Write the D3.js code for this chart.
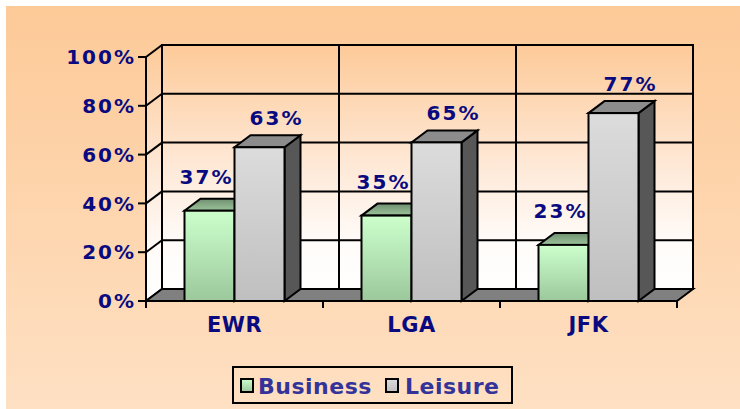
<!DOCTYPE html>
<html lang="en">
<head>
    <meta charset="UTF-8">
    <title>Business vs Leisure</title>
    <script src="https://d3js.org/d3.v7.min.js"></script>
    <style>
        body { margin: 0; background: #fff; }
        text { font-family: "DejaVu Sans", Verdana, sans-serif; font-weight: bold; }
    </style>
</head>
<body>
<script>

    var airports = ["EWR", "LGA", "JFK"]
    var series = ["Business", "Leisure"]
    var business = [0.37, 0.35, 0.23]
    var leisure = [0.63, 0.65, 0.77]
    var yTicks = [0, 0.2, 0.4, 0.6, 0.8, 1.0]

    var width = 740, height = 409
    var depth = {dx: 16, dy: -12}

    var svg = d3.select("body").append("svg")
        .attr("width", width)
        .attr("height", height)

    var defs = svg.append("defs")
    function grad(id, stops) {
        var g = defs.append("linearGradient").attr("id", id)
            .attr("x1", 0).attr("y1", 0).attr("x2", 0).attr("y2", 1)
        stops.forEach(function (s) {
            g.append("stop").attr("offset", s[0]).attr("stop-color", s[1])
        })
    }
    grad("bg", [[0, "#fdca98"], [1, "#fee0c3"]])
    grad("wall", [[0, "#fdca98"], [0.45, "#fee6d2"], [0.8, "#fffbf8"], [1, "#ffffff"]])
    grad("bizFront", [[0, "#ccffcc"], [1, "#9cc89c"]])
    grad("bizTop", [[0, "#6f8f6f"], [1, "#9cc49c"]])
    grad("leiFront", [[0, "#dcdcdc"], [1, "#bfbfbf"]])

    svg.append("rect")
        .attr("x", 6).attr("y", 6)
        .attr("width", width - 6).attr("height", height - 6)
        .attr("fill", "url(#bg)")

    var x = d3.scaleBand().domain(airports).range([146, 677])
    var xs = d3.scaleBand().domain(series).range([0, x.bandwidth()]).paddingOuter(0.77)
    var y = d3.scaleLinear().domain([0, 1]).range([301, 57])

    var x0 = x.range()[0], x1 = x.range()[1]
    var y0 = y(0), yTop = y(1)

    function pts(arr) {
        return arr.map(function (p) { return p[0] + "," + p[1] }).join(" ")
    }

    var chart = svg.append("g")

    // left wall and back wall
    chart.append("polygon")
        .attr("points", pts([[x0, y0], [x0 + depth.dx, y0 + depth.dy], [x0 + depth.dx, yTop + depth.dy], [x0, yTop]]))
        .attr("fill", "url(#wall)")
    chart.append("rect")
        .attr("x", x0 + depth.dx).attr("y", yTop + depth.dy)
        .attr("width", x1 - x0).attr("height", y0 - yTop)
        .attr("fill", "url(#wall)")
        .attr("stroke", "black").attr("stroke-width", 2)

    // gridlines on walls
    yTicks.forEach(function (t) {
        chart.append("line")
            .attr("x1", x0 + depth.dx).attr("x2", x1 + depth.dx)
            .attr("y1", y(t) + depth.dy).attr("y2", y(t) + depth.dy)
            .attr("stroke", "black").attr("stroke-width", 2)
        chart.append("line")
            .attr("x1", x0).attr("y1", y(t))
            .attr("x2", x0 + depth.dx).attr("y2", y(t) + depth.dy)
            .attr("stroke", "black").attr("stroke-width", 2)
    })
    airports.forEach(function (a) {
        var bx = x(a) + x.bandwidth() + depth.dx
        chart.append("line")
            .attr("x1", bx).attr("x2", bx)
            .attr("y1", yTop + depth.dy).attr("y2", y0 + depth.dy)
            .attr("stroke", "black").attr("stroke-width", 2)
    })

    // floor
    chart.append("polygon")
        .attr("points", pts([[x0, y0], [x1, y0], [x1 + depth.dx, y0 + depth.dy], [x0 + depth.dx, y0 + depth.dy]]))
        .attr("fill", "#808080")
        .attr("stroke", "black").attr("stroke-width", 2)

    // bars
    var styles = {
        Business: {front: "url(#bizFront)", top: "url(#bizTop)", side: "#5a7a5a", lx: -3, ly: -27},
        Leisure: {front: "url(#leiFront)", top: "#8c8c8c", side: "#575757", lx: 17, ly: -22}
    }
    var data = []
    airports.forEach(function (a, i) {
        data.push({cat: a, s: "Business", v: business[i]})
        data.push({cat: a, s: "Leisure", v: leisure[i]})
    })

    data.forEach(function (d) {
        var st = styles[d.s]
        var bx0 = x(d.cat) + xs(d.s)
        var bx1 = bx0 + xs.bandwidth()
        var by = y(d.v)
        var g = chart.append("g")
            .attr("stroke", "black").attr("stroke-width", 2)
        g.append("polygon")
            .attr("points", pts([[bx1, by], [bx1 + depth.dx, by + depth.dy], [bx1 + depth.dx, y0 + depth.dy], [bx1, y0]]))
            .attr("fill", st.side)
        g.append("polygon")
            .attr("points", pts([[bx0, by], [bx1, by], [bx1 + depth.dx, by + depth.dy], [bx0 + depth.dx, by + depth.dy]]))
            .attr("fill", st.top)
        g.append("rect")
            .attr("x", bx0).attr("y", by)
            .attr("width", bx1 - bx0).attr("height", y0 - by)
            .attr("fill", st.front)
    })

    // axes
    chart.append("line")
        .attr("x1", x0).attr("x2", x0).attr("y1", yTop).attr("y2", y0)
        .attr("stroke", "black").attr("stroke-width", 2)
    chart.append("line")
        .attr("x1", x0).attr("x2", x1).attr("y1", y0).attr("y2", y0)
        .attr("stroke", "black").attr("stroke-width", 2)

    yTicks.forEach(function (t) {
        chart.append("line")
            .attr("x1", x0 - 8).attr("x2", x0)
            .attr("y1", y(t)).attr("y2", y(t))
            .attr("stroke", "black").attr("stroke-width", 2)
        chart.append("text")
            .attr("x", x0 - 10)
            .attr("y", y(t))
            .attr("dy", "0.36em")
            .attr("text-anchor", "end")
            .attr("font-size", 20)
            .attr("letter-spacing", 2)
            .attr("fill", "#0a0a80")
            .text(d3.format(".0%")(t))
    })

    var bounds = [x0].concat(airports.map(function (a) { return x(a) + x.bandwidth() }))
    bounds.forEach(function (bx) {
        chart.append("line")
            .attr("x1", bx).attr("x2", bx).attr("y1", y0).attr("y2", y0 + 7)
            .attr("stroke", "black").attr("stroke-width", 2)
    })

    airports.forEach(function (a) {
        chart.append("text")
            .attr("x", x(a) + x.bandwidth() / 2)
            .attr("y", 332)
            .attr("text-anchor", "middle")
            .attr("font-size", 21)
            .attr("letter-spacing", 0.5)
            .attr("fill", "#0a0a80")
            .text(a)
    })

    // data labels
    data.forEach(function (d) {
        var st = styles[d.s]
        chart.append("text")
            .attr("x", x(d.cat) + xs(d.s) + xs.bandwidth() / 2 + st.lx)
            .attr("y", y(d.v) + st.ly)
            .attr("text-anchor", "middle")
            .attr("font-size", 20)
            .attr("letter-spacing", 2)
            .attr("fill", "#0a0a80")
            .text(d3.format(".0%")(d.v))
    })

    // legend
    var legend = svg.append("g")
    legend.append("rect")
        .attr("x", 233).attr("y", 367)
        .attr("width", 279).attr("height", 36)
        .attr("fill", "none")
        .attr("stroke", "black").attr("stroke-width", 2)
    var legendItems = [
        {s: "Business", sx: 241, tx: 258, fill: "url(#bizFront)"},
        {s: "Leisure", sx: 386, tx: 405, fill: "url(#leiFront)"}
    ]
    legendItems.forEach(function (l) {
        legend.append("rect")
            .attr("x", l.sx).attr("y", 379)
            .attr("width", 12).attr("height", 13)
            .attr("fill", l.fill)
            .attr("stroke", "black").attr("stroke-width", 2)
        legend.append("text")
            .attr("x", l.tx).attr("y", 394)
            .attr("font-size", 22)
            .attr("letter-spacing", 0.5)
            .attr("fill", "#333399")
            .text(l.s)
    })

</script>
</body>
</html>
